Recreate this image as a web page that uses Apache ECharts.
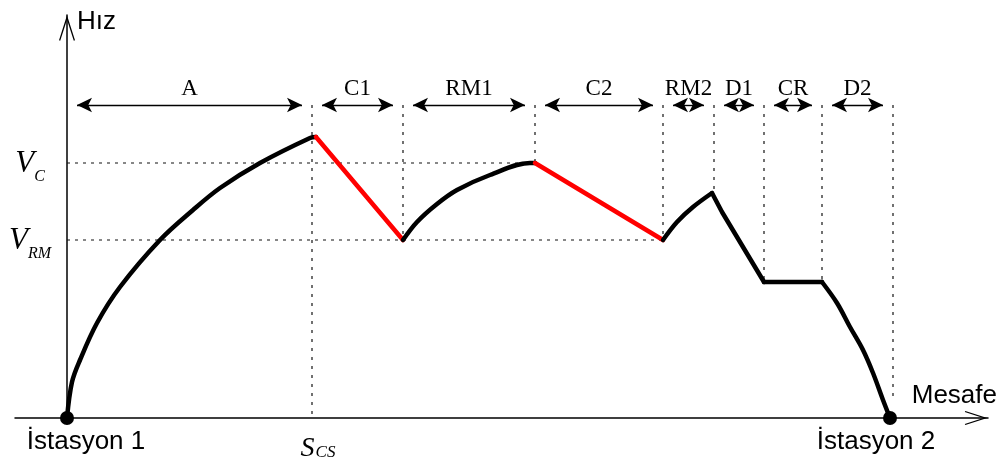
<!DOCTYPE html>
<html><head><meta charset="utf-8">
<script src="https://cdn.jsdelivr.net/npm/echarts@6/dist/echarts.min.js"></script>
<style>html,body{margin:0;padding:0;background:#fff}#c{width:1001px;height:464px}</style>
</head><body><div id="c"></div>
<script>
// ---- data (distance, speed) in schematic units ----
const segmentNames = ['A', 'C1', 'RM1', 'C2', 'RM2', 'D1', 'CR', 'D2'];
const segmentBounds = [0, 245, 336, 468, 596, 647, 697, 755, 826];
const guideFeet = [0, 178, 255, 178, 225, 136, 136, 20]; // lower end of each boundary guide (bounds 1..8)
const arrowLevel = 313;
const vC = 255;
const vRM = 178;
const accelA = [[0,0],[5,36],[13,58],[30,95],[53,131],[93,178],[126,208],[153,230],[193,255],[243,280],[249,281]];
const coast1 = [[249,281],[336,178]];
const accelRM1 = [[336,178],[350,196],[370,214],[390,228],[423,243],[463,255],[468,255]];
const coast2 = [[468,255],[596,178]];
const accelRM2 = [[596,178],[610,196],[626,211],[645,225]];
const decelD1 = [[645,225],[655,206],[697,136]];
const cruiseCR = [[697,136],[755,136]];
const decelD2 = [[755,136],[770,115],[783,91],[796,68],[806,45],[816,18],[823,0]];
const stations = [[0, 0, 'İstasyon 1'], [823, 0, 'İstasyon 2']];
const speedLabels = [['C', vC], ['RM', vRM]];
const distLabel = [245, 'CS'];

// ---- chart ----
const SERIF = '"Liberation Serif", "Times New Roman", serif';
const SANS = '"Liberation Sans", Arial, sans-serif';
const chevron = 'path://M8,0 L16,25 L14.8,25.6 L8,4.5 L1.2,25.6 L0,25 Z';
const chart = echarts.init(document.getElementById('c'));

const curve = (data, color, smooth) => ({
  type: 'line', data, smooth, symbol: 'none', silent: true, z: 5,
  lineStyle: { color, width: 4.5, cap: 'round', join: 'round' }
});
const guide = (data, dash) => ({
  type: 'line', data, symbol: 'none', silent: true, z: 2,
  lineStyle: { color: '#111', width: 1.2, type: dash }
});

const series = [];
series.push(guide([[0, vC], [segmentBounds[3], vC]], [3, 5]));
series.push(guide([[0, vRM], [segmentBounds[4], vRM]], [3, 5]));
for (let i = 1; i < segmentBounds.length; i++) {
  series.push(guide([[segmentBounds[i], arrowLevel], [segmentBounds[i], guideFeet[i - 1]]], [3, 6]));
}
series.push(curve(accelA, '#000', 0.35));
series.push(curve(coast1, '#ff0000', false));
series.push(curve(accelRM1, '#000', 0.35));
series.push(curve(coast2, '#ff0000', false));
series.push(curve(accelRM2, '#000', 0.35));
series.push(curve(decelD1, '#000', false));
const crSeries = curve(cruiseCR, '#000', false);
const inset = 10;
crSeries.markLine = {
  silent: true, animation: false,
  symbol: ['arrow', 'arrow'], symbolSize: [11, 15],
  lineStyle: { color: '#000', width: 1.4, type: 'solid' },
  emphasis: { disabled: true },
  label: { show: true, position: 'middle', formatter: '{b}', distance: 5, color: '#000', fontFamily: SERIF, fontSize: 23 },
  data: segmentNames.map((n, i) => [
    { name: n, coord: [segmentBounds[i] + inset, arrowLevel] },
    { coord: [segmentBounds[i + 1] - inset, arrowLevel] }
  ])
};
series.push(crSeries);
series.push(curve(decelD2, '#000', 0.35));
series.push({
  type: 'scatter', symbolSize: 14, silent: true, z: 6,
  itemStyle: { color: '#000', opacity: 1 },
  label: { show: true, position: 'bottom', distance: 4, formatter: '{b}', color: '#000', fontFamily: SANS, fontSize: 26 },
  data: stations.map((s, i) => ({ value: [s[0], s[1]], name: s[2], label: { offset: i === 0 ? [19, 0] : [-14, 0] } }))
});
const richV = {
  v: { fontFamily: SERIF, fontStyle: 'italic', fontSize: 31, lineHeight: 30, verticalAlign: 'top', color: '#000' },
  s: { fontFamily: SERIF, fontStyle: 'italic', fontSize: 16, lineHeight: 15, verticalAlign: 'top', padding: [21, 0, 0, 0], color: '#000' }
};
const richS = {
  v: { fontFamily: SERIF, fontStyle: 'italic', fontSize: 28, lineHeight: 27, verticalAlign: 'top', color: '#000' },
  s: { fontFamily: SERIF, fontStyle: 'italic', fontSize: 17, lineHeight: 16, verticalAlign: 'top', padding: [10, 0, 0, 1], color: '#000' }
};
series.push({
  type: 'scatter', symbolSize: 0, silent: true, z: 6,
  itemStyle: { opacity: 1 },
  label: { show: true, position: 'inside', color: '#000', rich: richV, formatter: p => '{v|' + p.data.big + '}{s|' + p.data.sub + '}' },
  data: speedLabels.map(s => ({ value: [-37, s[1]], big: 'V', sub: s[0] }))
    .concat([{ value: [distLabel[0], 0], big: 'S', sub: distLabel[1], label: { offset: [6, 30], rich: richS } }])
});

chart.setOption({
  animation: false,
  grid: { left: 15, right: 13, top: 15, bottom: 46, containLabel: false, outerBoundsMode: 'none' },
  xAxis: {
    type: 'value', min: -52, max: 921,
    axisLine: { onZero: true, lineStyle: { color: '#000', width: 1.5 }, symbol: ['none', chevron], symbolSize: [14, 24], symbolOffset: [0, -12] },
    axisTick: { show: false }, axisLabel: { show: false }, splitLine: { show: false },
    name: 'Mesafe', nameLocation: 'end', nameGap: 9,
    nameTextStyle: { fontFamily: SANS, fontSize: 26, color: '#000', align: 'right', verticalAlign: 'bottom', padding: [0, 0, 9, 0] }
  },
  yAxis: {
    type: 'value', min: 0, max: 403,
    axisLine: { onZero: true, lineStyle: { color: '#000', width: 1.5 }, symbol: ['none', chevron], symbolSize: [16, 26], symbolOffset: [0, -13] },
    axisTick: { show: false }, axisLabel: { show: false }, splitLine: { show: false },
    name: 'Hız', nameLocation: 'end', nameGap: -7,
    nameTextStyle: { fontFamily: SANS, fontSize: 26, color: '#000', align: 'left', verticalAlign: 'middle', padding: [0, 0, 0, 10] }
  },
  series
});
</script></body></html>
